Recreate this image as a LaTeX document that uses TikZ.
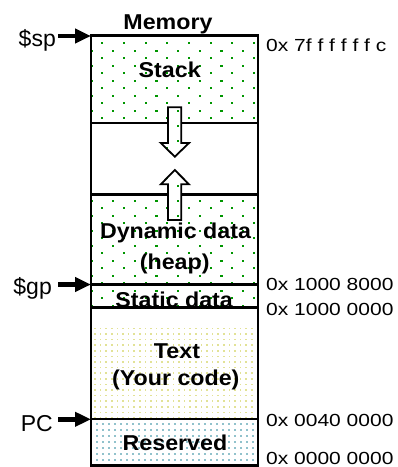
\documentclass[tikz,border=0pt]{standalone}
\usepackage{fontspec}
\setmainfont{Liberation Sans}
\newfontfamily\lblfont[FakeStretch=1.08]{Liberation Sans}
\newfontfamily\addrfont[FakeStretch=1.2]{Liberation Sans}
\usetikzlibrary{arrows.meta}
\definecolor{dotgreen}{RGB}{0,150,0}
\definecolor{dotyellow}{RGB}{226,226,150}
\definecolor{dotblue}{RGB}{145,194,204}
\tikzset{
  seglabel/.style={font=\lblfont\bfseries\fontsize{21.5}{24}\selectfont, anchor=base, inner sep=0pt},
  addrlabel/.style={font=\addrfont\fontsize{17.5}{20}\selectfont, anchor=base west, inner sep=0pt},
  reglabel/.style={font=\fontsize{23}{26}\selectfont, anchor=base east, inner sep=0pt},
  pointer/.style={line width=4.5pt, -{Triangle[length=16pt,width=14pt]}},
  memline/.style={line width=2.3pt},
  blockarrow/.style={draw, line width=1.8pt, line join=miter}
}
\begin{document}
\begin{tikzpicture}[x=1pt,y=-1pt]
\useasboundingbox (0,0) rectangle (398,467);
% green dotted areas
\begin{scope}
  \clip (91,35.5) rectangle (258.3,123.3) (91,194.5) rectangle (258.3,307.5);
  \foreach \k in {-1,...,36} {
    \pgfmathsetmacro\yy{43.3+7.5*\k}
    \pgfmathsetmacro\xo{isodd(\k)*10.83}
    \foreach \m in {-1,...,8} {
      \fill[dotgreen] ({102.3+21.67*\m+\xo-1.1},{\yy-1.1}) rectangle ++(2.2,2.2);
    }
  }
\end{scope}
% yellow dotted area
\begin{scope}
  \clip (91,307.5) rectangle (258.3,419.3);
  \foreach \k in {-1,...,20} {
    \pgfmathsetmacro\yy{334+5.6*\k}
    \foreach \m in {-1,...,30} {
      \fill[dotyellow] ({95+5.6*\m-0.85},{\yy-0.85}) rectangle ++(1.7,1.7);
    }
  }
\end{scope}
% blue dotted area
\begin{scope}
  \clip (91,419.3) rectangle (258.3,465.5);
  \foreach \k in {-1,...,8} {
    \pgfmathsetmacro\yy{424+6*\k}
    \foreach \m in {-1,...,28} {
      \fill[dotblue] ({97.3+6*\m-0.9},{\yy-0.9}) rectangle ++(1.8,1.8);
    }
  }
\end{scope}
% texts inside
\node[seglabel] (title) at (168,29.3) {Memory};
\node[seglabel] (stack) at (169.7,77.3) {Stack};
\node[seglabel] (dyn1) at (175.5,238.3) {Dynamic data};
\node[seglabel] (dyn2) at (174.7,269) {(heap)};
\node[seglabel] (static) at (174.2,307.1) {Static data};
\node[seglabel] (text1) at (177,358.3) {Text};
\node[seglabel] (text2) at (175.8,385) {(Your code)};
\node[seglabel] (res) at (175,450.5) {Reserved};
% memory outline and separators
\draw[memline] (91,35.5) rectangle (258.3,465.5);
\draw[memline] (91,123.3) -- (258.3,123.3);
\draw[memline] (91,194.5) -- (258.3,194.5);
\draw[memline] (91,284.5) -- (258.3,284.5);
\draw[memline] (91,307.5) -- (258.3,307.5);
\draw[memline] (91,419.3) -- (258.3,419.3);
% block arrows
\fill[white] (168,107.3) -- (181.3,107.3) -- (181.3,143) -- (189,143) -- (174.8,156.7) -- (160.8,143) -- (168,143) -- cycle;
\begin{scope}
  \clip (168,107.3) -- (181.3,107.3) -- (181.3,143) -- (189,143) -- (174.8,156.7) -- (160.8,143) -- (168,143) -- cycle;
  \foreach \k in {7,...,15} {
    \pgfmathsetmacro\yy{43.3+7.5*\k}
    \pgfmathsetmacro\xo{isodd(\k)*10.83}
    \foreach \m in {2,3,4} {
      \fill[dotgreen] ({102.3+21.67*\m+\xo-1.1},{\yy-1.1}) rectangle ++(2.2,2.2);
    }
  }
\end{scope}
\draw[blockarrow] (168,107.3) -- (181.3,107.3) -- (181.3,143) -- (189,143) -- (174.8,156.7) -- (160.8,143) -- (168,143) -- cycle;
\fill[white] (174.8,170) -- (189,184.3) -- (181.3,184.3) -- (181.3,220) -- (168,220) -- (168,184.3) -- (160.8,184.3) -- cycle;
\begin{scope}
  \clip (174.8,170) -- (189,184.3) -- (181.3,184.3) -- (181.3,220) -- (168,220) -- (168,184.3) -- (160.8,184.3) -- cycle;
  \foreach \k in {16,...,25} {
    \pgfmathsetmacro\yy{43.3+7.5*\k}
    \pgfmathsetmacro\xo{isodd(\k)*10.83}
    \foreach \m in {2,3,4} {
      \fill[dotgreen] ({102.3+21.67*\m+\xo-1.1},{\yy-1.1}) rectangle ++(2.2,2.2);
    }
  }
\end{scope}
\draw[blockarrow] (174.8,170) -- (189,184.3) -- (181.3,184.3) -- (181.3,220) -- (168,220) -- (168,184.3) -- (160.8,184.3) -- cycle;
% pointer labels
\node[reglabel] (sp) at (56,46.7) {\$sp};
\node[reglabel] (gp) at (52,294.5) {\$gp};
\node[reglabel] (pc) at (53,431) {PC};
\coordinate (spfrom) at (58,36);
\coordinate (spto) at (91,36);
\coordinate (gpfrom) at (58,284.5);
\coordinate (gpto) at (91,284.5);
\coordinate (pcfrom) at (58,419.3);
\coordinate (pcto) at (91,419.3);
\draw[pointer] (spfrom) -- (spto);
\draw[pointer] (gpfrom) -- (gpto);
\draw[pointer] (pcfrom) -- (pcto);
% addresses
\node[addrlabel] (a1) at (266,51.7) {0x 7f f f f f f c};
\node[addrlabel] (a2) at (266,290.7) {0x 1000 8000};
\node[addrlabel] (a3) at (266,315.2) {0x 1000 0000};
\node[addrlabel] (a4) at (266,426) {0x 0040 0000};
\node[addrlabel] (a5) at (266,464.3) {0x 0000 0000};
\end{tikzpicture}
\end{document}
